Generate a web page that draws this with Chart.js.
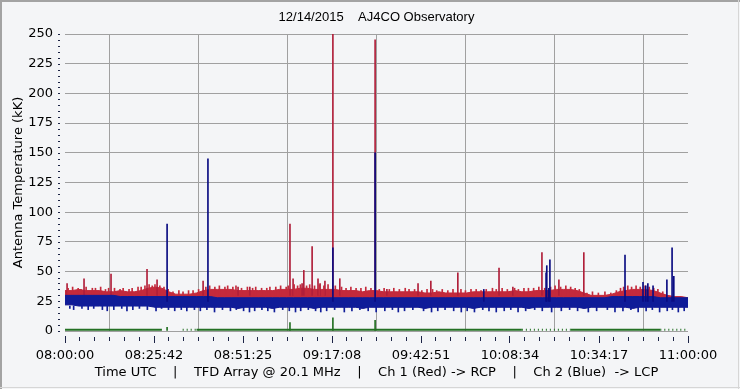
<!DOCTYPE html>
<html>
<head>
<meta charset="utf-8">
<script src="https://cdn.jsdelivr.net/npm/chart.js@4.4.0/dist/chart.umd.min.js"></script>
<style>
  html, body { margin: 0; padding: 0; background: #f4f5f7; }
  #wrap { position: relative; width: 740px; height: 389px; }
</style>
</head>
<body>
<div id="wrap"><canvas id="c"></canvas></div>
<script>
// time axis runs in minutes after 08:00:00 UTC
const tickLabels = ['08:00:00', '08:25:42', '08:51:25', '09:17:08', '09:42:51', '10:08:34', '10:34:17', '11:00:00'];
const titleText = '12/14/2015    AJ4CO Observatory';
const captionText = 'Time UTC    |    TFD Array @ 20.1 MHz    |    Ch 1 (Red) -> RCP    |    Ch 2 (Blue)  -> LCP';

// band envelopes, one sample every 2 minutes (kK)
const bandStep = 2;
const redTop = [
  34, 34, 35, 34, 34, 34, 33,
  33, 34, 33, 33, 34,
  36, 37, 36, 33,
  31, 31, 31, 32,
  34, 35, 35, 35, 35, 34,
  34, 34, 34, 34, 34,
  35, 35, 35, 36, 36, 35, 35, 35, 35, 34,
  34, 34, 33, 34, 34, 33, 33, 33, 33, 33,
  33, 32, 32, 33, 32, 32, 32, 32, 33, 33,
  33, 33, 33, 33, 34, 33, 33,
  34, 34, 34, 35, 35, 35, 34, 32,
  30, 30, 30, 31,
  33, 34, 35, 35, 35, 34, 32,
  30, 29, 29, 28
];
const blueTop = [
  30, 30, 30, 30, 30, 30, 30, 30, 29, 29,
  29, 29, 29, 29, 29, 29, 29, 29, 29, 29,
  29, 29, 28, 28, 28, 28, 28, 28, 28, 28,
  28, 28, 28, 28, 28, 28, 28, 28, 28, 28,
  28, 28, 28, 28, 28, 28, 28, 28, 28, 28,
  28, 28, 28, 28, 28, 28, 28, 28, 28, 28,
  28, 28, 28, 28, 28, 28, 28, 28, 28, 28,
  28, 28, 28, 28, 28, 28, 28, 28, 28, 29,
  29, 29, 29, 29, 29, 29, 28, 28, 28, 28,
  28
];
const blueBottom = [
  22, 22, 21, 21, 21, 21, 21, 21, 21, 21,
  21, 21, 21, 20, 20, 20, 20, 20, 20, 20,
  20, 20, 20, 20, 20, 19, 20, 20, 20, 20,
  19, 20, 20, 20, 20, 20, 19, 20, 20, 20,
  20, 20, 20, 19, 20, 20, 20, 20, 20, 20,
  20, 20, 19, 20, 20, 20, 20, 20, 20, 19,
  20, 20, 20, 20, 20, 20, 20, 19, 20, 20,
  20, 20, 20, 20, 20, 19, 20, 20, 20, 20,
  20, 20, 19, 20, 20, 20, 20, 20, 20, 20,
  20
];
// solid and dotted stretches of the ~1 kK trace
const greenLevel = [
  1, 1, 1, 1, 1, 1, 1, 1, 1, 1,
  1, 1, 1, 1, 1, null, null, null, null, 1,
  1, 1, 1, 1, 1, 1, 1, 1, 1, 1,
  1, 1, 1, 1, 1, 1, 1, 1, 1, 1,
  1, 1, 1, 1, 1, 1, 1, 1, 1, 1,
  1, 1, 1, 1, 1, 1, 1, 1, 1, 1,
  1, 1, 1, 1, 1, 1, 1, null, null, null,
  null, null, null, 1, 1, 1, 1, 1, 1, 1,
  1, 1, 1, 1, 1, 1, 1, null, null, null,
  null
];
const greenDotted = [
  null, null, null, null, null, null, null, null, null, null,
  null, null, null, null, null, null, null, 1, 1, 1,
  null, null, null, null, null, null, null, null, null, null,
  null, null, null, null, null, null, null, null, null, null,
  null, null, null, null, null, null, null, null, null, null,
  null, null, null, null, null, null, null, null, null, null,
  null, null, null, null, null, null, 1, 1, 1, 1,
  1, 1, 1, 1, null, null, null, null, null, null,
  null, null, null, null, null, null, 1, 1, 1, 1,
  1
];

// spikes: time (min) and peak (kK)
const redSpikeTimes = [0.6, 5.5, 13.3, 23.7, 26.6, 39.9, 50.0, 53.4, 65.0, 65.9, 68.5, 69.0, 71.4, 73.1, 73.7, 75.1, 77.4, 79.4, 89.6, 93.0, 102.0, 105.7, 113.5, 125.4, 129.4, 137.8, 142.7, 149.9];
const redSpikePeaks = [40, 44, 48, 52, 43, 42, 37, 37, 90, 44, 40, 51, 71, 44, 40, 42, 260, 44, 245, 35, 40, 42, 49, 53, 37, 66, 43, 66];
const blueSpikeTimes = [29.5, 41.3, 77.4, 89.6, 121.0, 139.0, 139.2, 139.8, 140.1, 161.8, 167.0, 167.8, 168.4, 169.9, 173.9, 175.4, 175.9];
const blueSpikePeaks = [90, 145, 70, 150, 35, 49, 55, 36, 60, 64, 41, 38, 40, 38, 43, 70, 46];
const greenSpikeTimes = [29.5, 65.0, 77.4, 89.6];
const greenSpikePeaks = [3, 7, 11, 9];

// short noise hairs on the red top edge and the blue bottom edge
const redHairTimes = [
  0.9, 2.2, 3.8, 4.6, 6.1, 7.9, 8.8, 10.3, 11.7, 12.6, 14.3, 15.9, 16.8, 18.5, 19.4, 21.1, 22.0, 23.1, 24.3, 25.2, 26.0, 27.4, 28.6, 29.8, 31.2, 32.9, 34.1, 35.7, 37.0, 38.6,
  40.7, 41.8, 43.3, 44.6, 46.2, 47.0, 48.5, 49.4, 51.0, 52.7, 54.2, 55.1, 56.8, 58.3, 59.2, 60.9, 62.3, 63.9, 64.5, 66.2, 67.2, 68.0, 69.8, 70.7, 72.1, 73.5, 74.8, 76.0, 78.1, 79.9,
  81.2, 82.6, 84.1, 85.5, 86.9, 88.4, 90.8, 92.2, 93.7, 95.0, 96.6, 98.3, 99.4, 101.0, 103.1, 104.6, 106.2, 107.4, 109.0, 110.6, 112.1, 114.4, 115.7, 117.3, 118.8, 120.2, 121.7, 123.5, 124.6, 126.3,
  127.8, 129.9, 131.0, 132.6, 133.9, 135.4, 136.9, 138.6, 140.3, 141.6, 143.2, 144.7, 146.1, 147.4, 148.6, 150.8, 152.4, 154.1, 156.0, 157.7, 159.3, 160.5, 161.4, 162.6, 163.7, 165.0, 166.2, 167.6, 168.8, 170.1, 171.3, 172.7
];
const redHairPeaks = [
  36, 37, 36, 35, 37, 36, 36, 37, 35, 36, 36, 35, 36, 35, 36, 37, 37, 38, 39, 38, 39, 38, 37, 35, 33, 34, 33, 34, 34, 35,
  37, 38, 37, 38, 37, 38, 37, 38, 36, 37, 36, 37, 36, 36, 37, 37, 38, 37, 38, 39, 38, 39, 38, 39, 38, 39, 38, 39, 38, 37,
  36, 37, 36, 36, 37, 36, 35, 36, 35, 36, 35, 36, 35, 35, 34, 35, 35, 34, 35, 34, 35, 35, 34, 35, 35, 34, 35, 36, 35, 36,
  35, 36, 35, 36, 36, 36, 37, 36, 37, 38, 37, 38, 37, 36, 35, 32, 33, 32, 33, 32, 34, 36, 37, 38, 37, 38, 37, 38, 37, 36, 35, 33
];
const blueDipTimes = [
  1.4, 2.5, 4.9, 6.7, 8.3, 10.8, 12.2, 14.1, 16.4, 17.9, 19.6, 21.5, 23.8, 26.3, 27.9, 29.9, 31.7, 33.6, 35.2, 37.4, 39.1, 41.0, 43.2, 45.5, 47.8, 49.5, 51.6, 53.3, 54.8, 56.9,
  58.6, 60.5, 62.9, 64.8, 66.6, 68.1, 70.3, 72.4, 73.9, 75.6, 77.9, 80.7, 82.9, 85.2, 87.6, 89.9, 92.4, 94.6, 96.3, 98.1, 100.5, 103.6, 105.9, 107.7, 109.8, 112.3, 114.5, 116.2, 118.3, 120.7,
  122.5, 124.6, 126.9, 128.8, 130.9, 133.1, 135.7, 137.9, 140.6, 143.4, 145.8, 148.1, 151.2, 153.6, 156.7, 158.9, 161.2, 163.5, 165.6, 167.9, 169.7, 171.8, 174.0, 175.5, 177.2, 178.9
];
const blueDipLows = [
  19, 18, 19, 18, 19, 18, 17, 18, 19, 17, 18, 19, 18, 17, 19, 18, 17, 18, 17, 18, 17, 18, 16, 18, 17, 18, 17, 16, 17, 18,
  17, 16, 18, 17, 16, 17, 18, 17, 16, 17, 18, 16, 17, 18, 17, 16, 17, 18, 16, 17, 18, 17, 16, 17, 18, 17, 16, 17, 16, 18,
  17, 16, 17, 18, 16, 17, 18, 17, 16, 17, 18, 17, 16, 17, 18, 16, 17, 18, 16, 17, 18, 16, 17, 18, 16, 17
];

const bandTimes = redTop.map((_, i) => i * bandStep);
const pts = arr => arr.map((v, i) => ({x: bandTimes[i], y: v}));
const spikes = (times, peaks, base) => times.map((t, i) => ({x: t, y: [base, peaks[i]]}));

const frameAndTicks = {
  id: 'frameAndTicks',
  beforeDraw(chart) {
    const {ctx, width, height} = chart;
    ctx.save();
    ctx.fillStyle = '#f4f5f7';
    ctx.fillRect(0, 0, width, height);
    ctx.fillStyle = '#a3a3a3';
    ctx.fillRect(0, 0, width, 2);
    ctx.fillRect(0, 0, 2, height);
    ctx.fillStyle = '#d6d6d6';
    ctx.fillRect(0, height - 2, width, 1);
    ctx.fillRect(width - 2, 0, 1, height);
    ctx.restore();
  },
  afterDraw(chart) {
    const {ctx, chartArea, scales: {x, y}} = chart;
    ctx.save();
    ctx.fillStyle = '#1c2446';
    for (let v = 0; v <= 250; v += 5) {
      const py = Math.round(y.getPixelForValue(v));
      ctx.fillRect(chartArea.left - 7, py, 2, 1);
    }
    const step = 180 / 7 / 6;
    for (let i = 0; i <= 42; i++) {
      const px = Math.floor(x.getPixelForValue(i * step));
      const major = i % 6 === 0;
      ctx.fillRect(px, chartArea.bottom + (major ? 5 : 6), 1, major ? 7 : 4);
    }
    ctx.restore();
  }
};

const tickFont = {family: 'DejaVu Sans', size: 13};
const RED = '#c42a3c', BLUE = '#0f1c98', GREEN = '#237023';

new Chart(document.getElementById('c'), {
  type: 'line',
  data: {
    datasets: [
      {data: pts(redTop), borderColor: RED, backgroundColor: RED, borderWidth: 1, fill: 2, order: 7},
      {type: 'bar', data: spikes(redHairTimes, redHairPeaks, 30), backgroundColor: RED, barThickness: 1, grouped: false, order: 6},
      {data: pts(blueBottom), borderColor: BLUE, borderWidth: 1, fill: false, order: 5},
      {data: pts(blueTop), borderColor: BLUE, backgroundColor: BLUE, borderWidth: 1, fill: 2, order: 4},
      {type: 'bar', data: spikes(blueDipTimes, blueDipLows, 21), backgroundColor: BLUE, barThickness: 1, grouped: false, order: 4},
      {type: 'bar', data: spikes(redSpikeTimes, redSpikePeaks, 30), backgroundColor: '#b01f3a', barThickness: 1, grouped: false, order: 6},
      {type: 'bar', data: spikes(blueSpikeTimes, blueSpikePeaks, 25), backgroundColor: '#0a0c82', barThickness: 1, grouped: false, order: 2},
      {data: pts(greenLevel), borderColor: GREEN, borderWidth: 2, fill: false, spanGaps: false, order: 1},
      {data: pts(greenDotted), borderColor: GREEN, borderWidth: 2, borderDash: [1, 3], fill: false, spanGaps: false, order: 1},
      {type: 'bar', data: spikes(greenSpikeTimes, greenSpikePeaks, 0), backgroundColor: GREEN, barThickness: 1, grouped: false, order: 0}
    ]
  },
  options: {
    responsive: true,
    maintainAspectRatio: false,
    animation: false,
    layout: {padding: {left: 0, right: 52, top: 0, bottom: 0}},
    elements: {point: {radius: 0}, line: {tension: 0}},
    plugins: {
      legend: {display: false},
      tooltip: {enabled: false},
      title: {
        display: true, text: titleText, fullSize: false, color: '#000',
        font: {family: 'Liberation Sans', size: 13, weight: 'normal'},
        padding: {top: 10, bottom: 8.4}
      }
    },
    scales: {
      x: {
        type: 'linear', min: 0, max: 180, offset: false,
        afterBuildTicks: s => { s.ticks = tickLabels.map((_, i) => ({value: i * 180 / 7})); },
        afterFit: s => { s.height = 58; },
        ticks: {callback: (v, i) => tickLabels[i], color: '#000', font: tickFont, padding: 17, maxRotation: 0, autoSkip: false},
        grid: {color: '#a0a0a0', drawTicks: false},
        border: {display: false},
        title: {display: true, text: captionText, color: '#000', font: tickFont, padding: {top: 0, bottom: 9}}
      },
      y: {
        min: 0, max: 250,
        afterFit: s => { s.width = 65; },
        ticks: {stepSize: 25, color: '#000', font: tickFont, padding: 12},
        grid: {color: '#a0a0a0', drawTicks: false},
        border: {display: false},
        title: {display: true, text: 'Antenna Temperature (kK)', color: '#000', font: tickFont, padding: {top: 10.7, bottom: 0}}
      }
    }
  },
  plugins: [frameAndTicks]
});
</script>
</body>
</html>
